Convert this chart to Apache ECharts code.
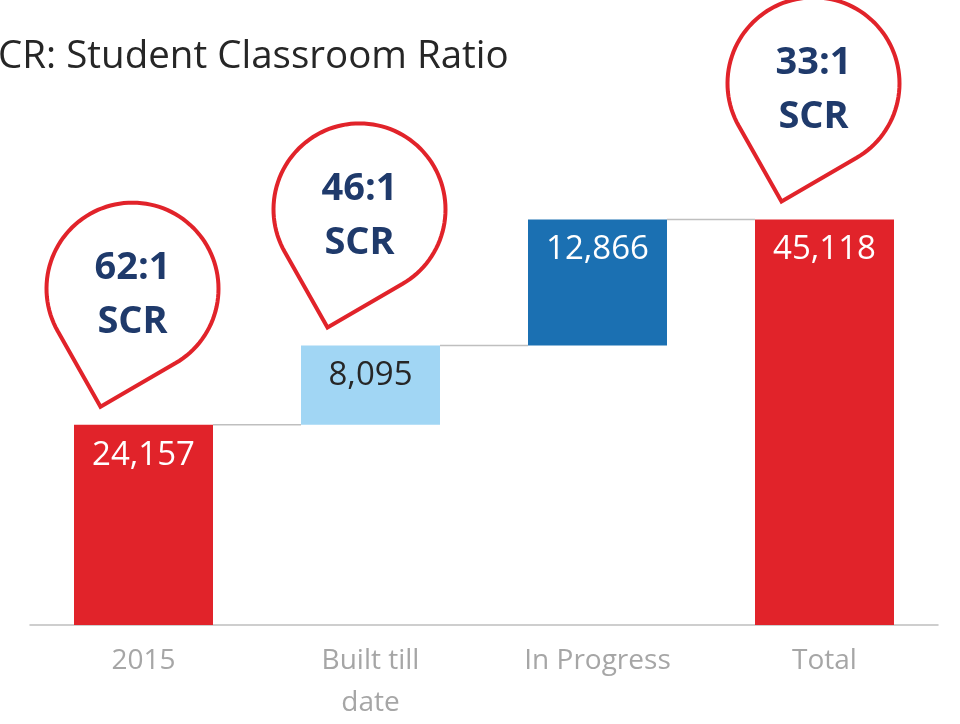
<!DOCTYPE html>
<html>
<head>
<meta charset="utf-8">
<script src="https://cdn.jsdelivr.net/npm/echarts@6/dist/echarts.min.js"></script>
<style>html,body{margin:0;padding:0;background:#fff}#c{width:960px;height:724px}</style>
</head>
<body>
<div id="c"></div>
<script>
const categories = ['2015', 'Built till\ndate', 'In Progress', 'Total'];
const values = [24157, 8095, 12866, 45118];
const isTotal = [false, false, false, true];
const ratioLabels = ['62:1', '46:1', null, '33:1'];
const titleText = 'SCR: Student Classroom Ratio';

const barColors = ['#e1232a', '#a1d6f4', '#1b70b2', '#e1232a'];
const labelColors = ['#ffffff', '#262626', '#ffffff', '#ffffff'];

// derived waterfall bases / tops
const bases = [];
const tops = [];
let run = 0;
values.forEach((v, i) => {
  if (isTotal[i] || i === 0) { bases.push(0); tops.push(v); run = v; }
  else { bases.push(run); run += v; tops.push(run); }
});

const chart = echarts.init(document.getElementById('c'));
const FONT = 'Open Sans';
const BAR_W = 139;

const calloutData = [];
ratioLabels.forEach((r, i) => { if (r) calloutData.push([i, tops[i], r]); });
const connData = [];
for (let i = 0; i < values.length - 1; i++) connData.push([i, tops[i]]);

chart.setOption({
  animation: false,
  title: {
    text: titleText, left: -28, top: 33,
    textStyle: { fontFamily: FONT, fontSize: 38.5, fontWeight: 'normal', color: '#262626' }
  },
  grid: { left: 30, right: 22, top: 171.6, bottom: 93 },
  xAxis: {
    type: 'category', data: categories,
    axisLine: { lineStyle: { color: '#bfbfbf', width: 1.5 } },
    axisTick: { show: false },
    axisLabel: { color: '#a6a6a6', fontFamily: FONT, fontSize: 28, lineHeight: 42, margin: 15 }
  },
  yAxis: { type: 'value', min: 3700, max: 50000, show: false, splitLine: { show: false } },
  series: [
    {
      type: 'bar', stack: 'w', barWidth: BAR_W, silent: true,
      itemStyle: { color: 'transparent' },
      data: bases
    },
    {
      type: 'bar', stack: 'w', barWidth: BAR_W,
      data: values.map((v, i) => ({
        value: v,
        itemStyle: { color: barColors[i] },
        label: { color: labelColors[i] }
      })),
      label: {
        show: true, position: 'insideTop', distance: 14,
        fontFamily: FONT, fontSize: 33,
        formatter: p => p.value.toLocaleString('en-US')
      }
    },
    {
      type: 'custom', data: connData, z: 1,
      renderItem: (params, api) => {
        const p = api.coord([api.value(0), api.value(1)]);
        const w = api.size([1, 0])[0];
        return {
          type: 'line',
          shape: { x1: p[0] + BAR_W / 2, y1: p[1], x2: p[0] + w - BAR_W / 2, y2: p[1] },
          style: { stroke: '#bfbfbf', lineWidth: 1.5 }
        };
      }
    },
    {
      type: 'custom', data: calloutData, z: 5,
      renderItem: (params, api) => {
        const p = api.coord([api.value(0), api.value(1)]);
        const cx = p[0] - 11, cy = p[1] - 136;
        const R = 86;
        const tdx = -32, tdy = 118;
        const d = Math.sqrt(tdx * tdx + tdy * tdy);
        const ang = Math.atan2(tdy, tdx);
        const half = Math.acos(R / d);
        const pts = [];
        const start = ang + half, end = ang - half + Math.PI * 2;
        const N = 90;
        for (let k = 0; k <= N; k++) {
          const a = start + (end - start) * k / N;
          pts.push([cx + R * Math.cos(a), cy + R * Math.sin(a)]);
        }
        pts.push([cx + tdx, cy + tdy]);
        const txt = calloutData[params.dataIndex][2] + '\nSCR';
        return {
          type: 'group',
          children: [
            { type: 'polygon', shape: { points: pts },
              style: { fill: '#ffffff', stroke: '#e1232a', lineWidth: 4, lineJoin: 'miter' } },
            { type: 'text', x: cx, y: cy + 7,
              style: { text: txt, x: 0, y: 0, align: 'center', verticalAlign: 'middle',
                font: 'bold 38px "Open Sans"', fill: '#1f3a6b', lineHeight: 54 } }
          ]
        };
      }
    }
  ]
});
</script>
</body>
</html>
